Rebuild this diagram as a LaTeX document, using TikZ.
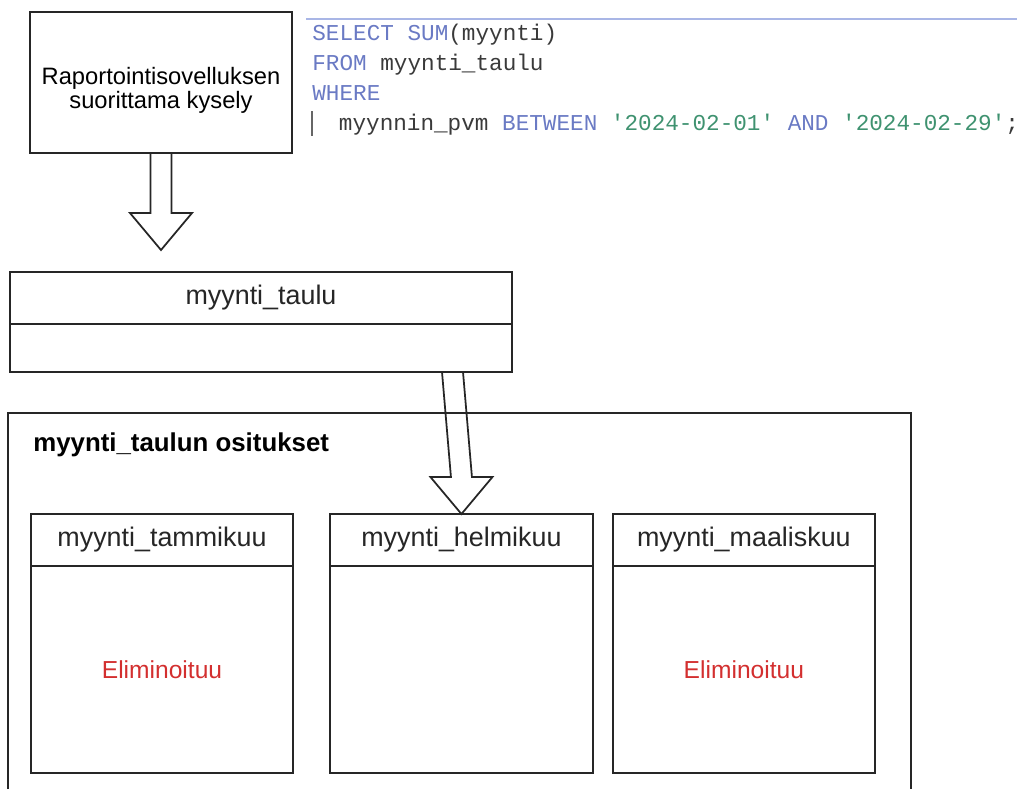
\documentclass[tikz,border=0pt]{standalone}
\usepackage{fontspec}
\setmainfont{Liberation Sans}
\newfontfamily\codefont[Ligatures=TeXOff]{Liberation Mono}
\usepackage{xcolor}
\usetikzlibrary{calc,positioning}
\definecolor{kwblue}{HTML}{6A7AC4}
\definecolor{strgreen}{HTML}{3F9270}
\definecolor{idgray}{HTML}{3A3A3A}
\definecolor{rulebl}{HTML}{A9B6E6}
\definecolor{elimred}{HTML}{D32F2F}
\newcommand{\sqlkw}[1]{\textcolor{kwblue}{#1}}
\newcommand{\sqlstr}[1]{\textcolor{strgreen}{#1}}
% hollow block arrow from #1 down to the tip #2
\newcommand{\blkarrow}[2]{%
  \draw[blk] ($(#1)+(-10.5,0)$) -- ($(#2)+(-10.5,-37)$) -- ($(#2)+(-31,-37)$)
    -- (#2) -- ($(#2)+(31,-37)$) -- ($(#2)+(10.5,-37)$) -- ($(#1)+(10.5,0)$);}

\begin{document}
\begin{tikzpicture}[
    x=0.02cm, y=-0.02cm,
    font=\fontsize{15.3}{17}\selectfont\color{black!85},
    box/.style={draw=black!85, line width=1pt, inner sep=0pt, outer sep=0pt, align=center},
    tblhead/.style={box, minimum height=1.04cm},
    partbody/.style={box, minimum width=5.25cm, minimum height=4.14cm},
    codeln/.style={anchor=base west, inner sep=0pt, text=idgray,
      font=\codefont\fontsize{12.9}{15}\selectfont},
    blk/.style={draw=black!85, line width=1pt, line join=miter}]

  \useasboundingbox (0,0) rectangle (1017,789);

  % query box and the sql text
  \node[box, minimum width=5.24cm, minimum height=2.82cm] (kysely) at (161,82.5) {};
  \node[align=center, inner sep=0pt, font=\fontsize{13.5}{13.8}\selectfont]
    (kyselyTxt) at (161,90) {Raportointisovelluksen\\ suorittama kysely};

  \draw[rulebl, line width=1.2pt] (306,19) -- (1017,19);
  \node[codeln] (sql1) at (312,40) {\sqlkw{SELECT} \sqlkw{SUM}(myynti)};
  \node[codeln] (sql2) at (312,70) {\sqlkw{FROM} myynti\_taulu};
  \node[codeln] (sql3) at (312,100) {\sqlkw{WHERE}};
  \node[codeln] (sql4) at (338.6,130) {myynnin\_pvm \sqlkw{BETWEEN}
    \sqlstr{'2024-02-01'} \sqlkw{AND} \sqlstr{'2024-02-29'};};
  \draw[black!60, line width=0.6pt] (312,111) -- (312,136);

  % table
  \node[tblhead, minimum width=10.04cm] (taulu) at (261,298) {myynti\_taulu};
  \node[box, minimum width=10.04cm, minimum height=0.96cm,
        below=0pt of taulu] (tauluB) {};

  % partitions
  \draw[black!85, line width=1pt] (8,789) -- (8,413) -- (911,413) -- (911,789);
  \node[anchor=west, inner sep=0pt, font=\fontsize{14.7}{16}\selectfont\bfseries]
    (ositus) at (33,445) {myynti\_taulun ositukset};

  \node[tblhead, minimum width=5.25cm] (tammi) at (162,540) {myynti\_tammikuu};
  \node[partbody, below=0pt of tammi, font=\fontsize{14}{16}\selectfont] (tammiB)
    {\textcolor{elimred}{Eliminoituu}};
  \node[tblhead, minimum width=5.25cm, right=0.74cm of tammi] (helmi) {myynti\_helmikuu};
  \node[partbody, below=0pt of helmi] (helmiB) {};
  \node[tblhead, minimum width=5.25cm, right=0.4cm of helmi] (maalis) {myynti\_maaliskuu};
  \node[partbody, below=0pt of maalis, font=\fontsize{14}{16}\selectfont] (maalisB)
    {\textcolor{elimred}{Eliminoituu}};

  % block arrows
  \coordinate (k1tip) at (161,250);
  \blkarrow{kysely.south}{k1tip}
  \coordinate (k2top) at (452.5,372);
  \blkarrow{k2top}{helmi.north}
\end{tikzpicture}
\end{document}
